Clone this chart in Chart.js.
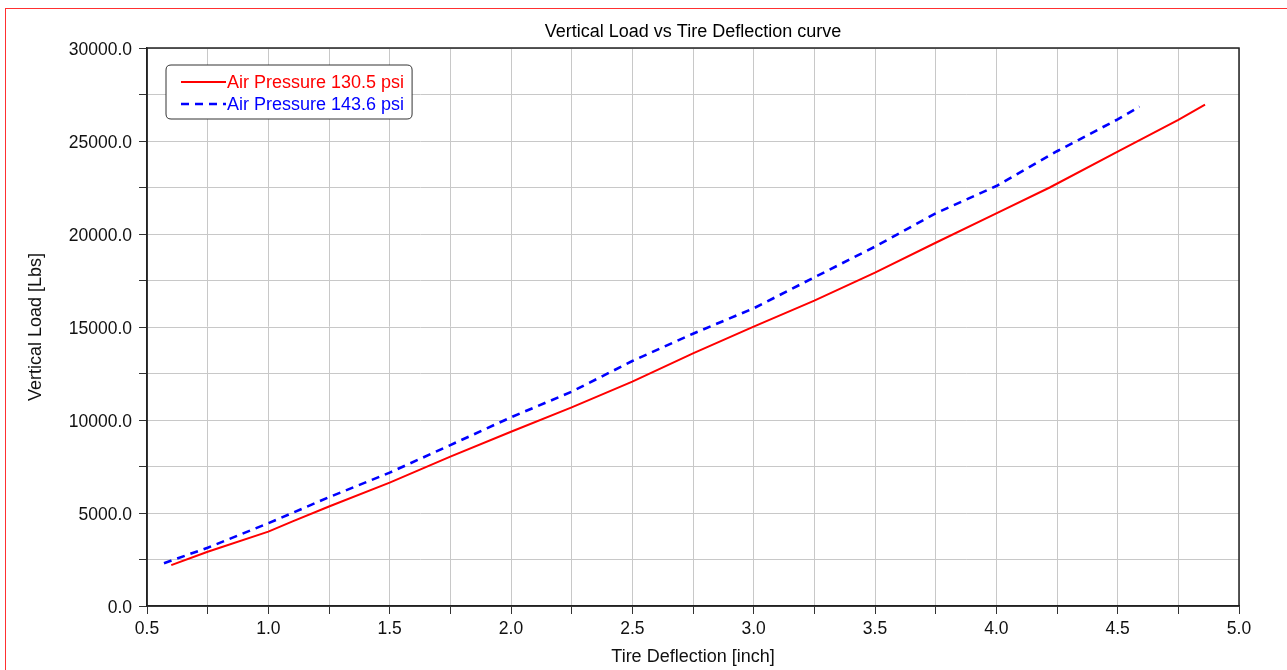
<!DOCTYPE html>
<html>
<head>
<meta charset="utf-8">
<script src="https://cdn.jsdelivr.net/npm/chart.js@4"></script>
<style>
  html, body { margin: 0; padding: 0; background: #fff; overflow: hidden; }
  #wrap { position: relative; width: 1287px; height: 670px; }
  #frame { position: absolute; left: 5px; top: 8px; width: 1400px; height: 800px;
           border-top: 1.5px solid #ff3030; border-left: 1.5px solid #ff3030; pointer-events: none; }
  canvas { position: absolute; left: 0; top: 0; }
</style>
</head>
<body>
<div id="wrap">
  <canvas id="c" width="1287" height="670"></canvas>
  <div id="frame"></div>
</div>
<script>
// ---- data ----
const chartTitle = "Vertical Load vs Tire Deflection curve";
const xAxisTitle = "Tire Deflection [inch]";
const yAxisTitle = "Vertical Load [Lbs]";
const seriesNames = ["Air Pressure 130.5 psi", "Air Pressure 143.6 psi"];

const deflection130 = [0.60, 0.75, 1.00, 1.10, 1.25, 1.50, 1.75, 2.00, 2.25, 2.50, 2.75, 3.00, 3.25, 3.50, 3.75, 4.00, 4.22, 4.50, 4.75, 4.86];
const load130       = [2200, 2920, 4000, 4550, 5350, 6630, 8030, 9370, 10680, 12060, 13585, 15016, 16414, 17920, 19530, 21110, 22500, 24425, 26130, 26950];

const deflection143 = [0.57, 0.75, 1.00, 1.25, 1.50, 1.75, 2.00, 2.25, 2.50, 2.75, 3.00, 3.25, 3.50, 3.75, 4.00, 4.25, 4.50, 4.59];
const load143       = [2300, 3134, 4450, 5850, 7170, 8650, 10145, 11520, 13170, 14640, 16005, 17670, 19320, 21110, 22580, 24450, 26165, 26850];

const xMin = 0.5, xMax = 5.0, xStep = 0.25, xLabelEvery = 0.5;
const yMin = 0, yMax = 30000, yStep = 2500, yLabelEvery = 5000;

const FONT = "'Liberation Sans', Arial, sans-serif";
const FS = 18;      // titles, legend
const FT = 17.5;    // tick labels

function pts(xs, ys) { return xs.map((x, i) => ({ x: x, y: ys[i] })); }

const boxPlugin = {
  id: 'plotBox',
  afterDatasetsDraw(chart) {
    const { ctx, chartArea: a } = chart;
    ctx.save();
    ctx.strokeStyle = '#222';
    ctx.lineWidth = 1.5;
    ctx.strokeRect(a.left, a.top, a.right - a.left, a.bottom - a.top);
    ctx.restore();
  }
};

const titlePlugin = {
  id: 'plotTitle',
  afterDraw(chart) {
    const { ctx, chartArea: a } = chart;
    ctx.save();
    ctx.font = FS + 'px ' + FONT;
    ctx.fillStyle = '#000';
    ctx.textAlign = 'center';
    ctx.textBaseline = 'middle';
    ctx.fillText(chartTitle, (a.left + a.right) / 2, 32);
    ctx.restore();
  }
};

const legendPlugin = {
  id: 'insideLegend',
  afterDraw(chart) {
    const { ctx } = chart;
    const ds = chart.data.datasets;
    ctx.save();
    ctx.font = FS + 'px ' + FONT;
    let maxW = 0;
    ds.forEach(d => { maxW = Math.max(maxW, ctx.measureText(d.label).width); });
    const bx = 166, by = 65, lineX0 = 181, lineX1 = 226, textX = 227;
    const rowY = [82, 104];
    const bw = textX + maxW + 8 - bx, bh = 54;
    ctx.beginPath();
    const r = 5;
    ctx.moveTo(bx + r, by);
    ctx.lineTo(bx + bw - r, by); ctx.quadraticCurveTo(bx + bw, by, bx + bw, by + r);
    ctx.lineTo(bx + bw, by + bh - r); ctx.quadraticCurveTo(bx + bw, by + bh, bx + bw - r, by + bh);
    ctx.lineTo(bx + r, by + bh); ctx.quadraticCurveTo(bx, by + bh, bx, by + bh - r);
    ctx.lineTo(bx, by + r); ctx.quadraticCurveTo(bx, by, bx + r, by);
    ctx.closePath();
    ctx.fillStyle = '#fff';
    ctx.fill();
    ctx.strokeStyle = '#333';
    ctx.lineWidth = 1;
    ctx.stroke();
    ds.forEach((d, i) => {
      const y = rowY[i];
      ctx.beginPath();
      ctx.setLineDash(d.borderDash || []);
      ctx.strokeStyle = d.borderColor;
      ctx.lineWidth = d.borderWidth;
      ctx.moveTo(lineX0, y);
      ctx.lineTo(lineX1, y);
      ctx.stroke();
      ctx.setLineDash([]);
      ctx.fillStyle = d.borderColor;
      ctx.textBaseline = 'middle';
      ctx.textAlign = 'left';
      ctx.fillText(d.label, textX, y + 1);
    });
    ctx.restore();
  }
};

new Chart(document.getElementById('c'), {
  type: 'line',
  data: {
    datasets: [
      { label: seriesNames[0], data: pts(deflection130, load130), borderColor: '#ff0000', borderWidth: 2,
        pointRadius: 0, tension: 0, fill: false },
      { label: seriesNames[1], data: pts(deflection143, load143), borderColor: '#0000ff', borderWidth: 2.6,
        borderDash: [8, 6], pointRadius: 0, tension: 0, fill: false }
    ]
  },
  options: {
    responsive: false,
    animation: false,
    devicePixelRatio: 1,
    layout: { padding: { left: 0, right: 48, top: 48, bottom: 0 } },
    plugins: {
      legend: { display: false },
      tooltip: { enabled: false },
      title: { display: false }
    },
    scales: {
      x: {
        type: 'linear', min: xMin, max: xMax,
        ticks: { stepSize: xStep, autoSkip: false, maxRotation: 0, color: '#111', padding: 5,
                 font: { family: FONT, size: FT },
                 callback: v => (Math.abs(v / xLabelEvery - Math.round(v / xLabelEvery)) < 1e-9 ? v.toFixed(1) : '') },
        grid: { color: '#c8c8c8', lineWidth: 1, tickLength: 8, tickColor: '#333' },
        border: { color: '#222', width: 1.5 },
        title: { display: true, text: xAxisTitle, color: '#111', font: { family: FONT, size: FS }, padding: { top: 0, bottom: 2 } },
        afterFit: s => { s.height = 64; }
      },
      y: {
        type: 'linear', min: yMin, max: yMax,
        ticks: { stepSize: yStep, autoSkip: false, color: '#111', padding: 7, labelOffset: 2,
                 font: { family: FONT, size: FT },
                 callback: v => (v % yLabelEvery === 0 ? v.toFixed(1) : '') },
        grid: { color: '#c8c8c8', lineWidth: 1, tickLength: 8, tickColor: '#333' },
        border: { color: '#222', width: 1.5 },
        title: { display: true, text: yAxisTitle, color: '#111', font: { family: FONT, size: FS }, padding: { top: 25, bottom: 0 } },
        afterFit: s => { s.width = 147; }
      }
    }
  },
  plugins: [boxPlugin, titlePlugin, legendPlugin]
});
</script>
</body>
</html>
